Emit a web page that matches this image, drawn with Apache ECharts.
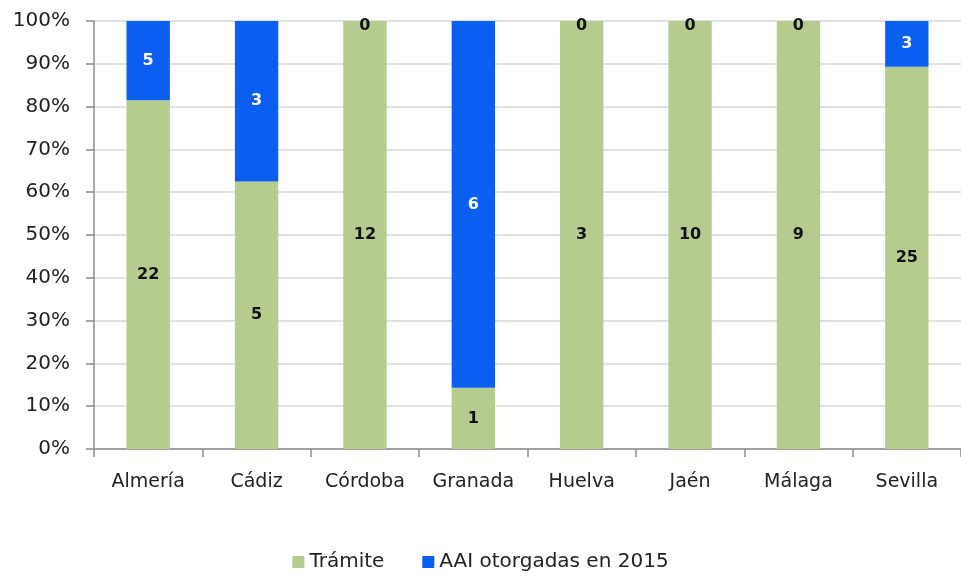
<!DOCTYPE html>
<html>
<head>
<meta charset="utf-8">
<script src="https://cdn.jsdelivr.net/npm/echarts@6/dist/echarts.min.js"></script>
<style>
  html, body { margin: 0; padding: 0; background: #fff; }
  #main { width: 961px; height: 578px; }
</style>
</head>
<body>
<div id="main"></div>
<script>
// provincias y numero de expedientes
var provincias = ['Almería', 'Cádiz', 'Córdoba', 'Granada', 'Huelva', 'Jaén', 'Málaga', 'Sevilla'];
var tramite = [22, 5, 12, 1, 3, 10, 9, 25];
var otorgadas = [5, 3, 0, 6, 0, 0, 0, 3];
var yTicks = [0, 10, 20, 30, 40, 50, 60, 70, 80, 90, 100];

// porcentajes sobre el total de cada provincia
function pct(arr) {
    return arr.map(function (v, i) {
        var total = tramite[i] + otorgadas[i];
        return { value: total ? v / total * 100 : 0, raw: v };
    });
}

var labelFont = 'DejaVu Sans';

var option = {
    animation: false,
    grid: {
        left: 94,
        top: 21,
        width: 876,
        height: 428
    },
    legend: {
        bottom: 1,
        left: 'center',
        itemWidth: 12,
        itemHeight: 12,
        itemGap: 38,
        icon: 'rect',
        textStyle: { fontFamily: labelFont, fontSize: 20, color: '#222' },
        data: ['Trámite', 'AAI otorgadas en 2015']
    },
    xAxis: {
        type: 'category',
        data: provincias,
        axisLine: { lineStyle: { color: '#8c8c8c', width: 1.5 } },
        axisTick: { show: true, length: 8, lineStyle: { color: '#8c8c8c', width: 1.5 } },
        axisLabel: { fontFamily: labelFont, fontSize: 19, color: '#222', margin: 24 }
    },
    yAxis: {
        type: 'value',
        min: 0,
        max: 100,
        interval: 10,
        axisLine: { show: true, lineStyle: { color: '#8c8c8c', width: 1.5 } },
        axisTick: { show: true, length: 8, lineStyle: { color: '#8c8c8c', width: 1.5 } },
        splitLine: { lineStyle: { color: '#d9d9d9', width: 1.5 } },
        axisLabel: {
            fontFamily: labelFont, fontSize: 20, color: '#222', margin: 24,
            verticalAlign: 'middle', padding: [6, 0, 0, 0],
            formatter: function (v) { return yTicks.indexOf(v) >= 0 ? v + '%' : ''; }
        }
    },
    series: [{
        name: 'Trámite',
        type: 'bar',
        stack: 'total',
        barWidth: '40%',
        itemStyle: { color: '#b5cc8e' },
        label: {
            show: true,
            position: 'inside',
            fontFamily: labelFont,
            fontWeight: 'bold',
            fontSize: 16,
            color: '#111',
            formatter: function (p) { return p.data.raw; }
        },
        data: pct(tramite)
    }, {
        name: 'AAI otorgadas en 2015',
        type: 'bar',
        stack: 'total',
        barWidth: '40%',
        itemStyle: { color: '#0a5ff0' },
        label: {
            show: true,
            position: 'inside',
            fontFamily: labelFont,
            fontWeight: 'bold',
            fontSize: 16,
            formatter: function (p) { return p.data.raw; },
            color: '#fff'
        },
        data: pct(otorgadas).map(function (d) {
            if (d.raw === 0) {
                d.label = { color: '#111', position: 'insideTop', distance: -3 };
            }
            return d;
        })
    }]
};

var chart = echarts.init(document.getElementById('main'));
chart.setOption(option);
</script>
</body>
</html>
